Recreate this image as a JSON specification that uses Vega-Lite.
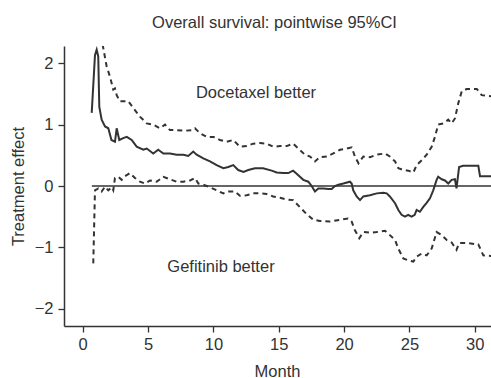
{
  "$schema": "https://vega.github.io/schema/vega-lite/v6.json",
  "autosize": {"type": "none"},
  "width": 427,
  "height": 280,
  "padding": {"left": 64, "top": 46, "right": 0, "bottom": 52},
  "background": "white",
  "title": {"text": "Overall survival: pointwise 95%CI", "fontSize": 16.5, "fontWeight": "normal", "color": "#333", "font": "Liberation Sans", "anchor": "middle", "frame": "group", "baseline": "alphabetic", "offset": 2, "dx": -3},
  "config": {"view": {"stroke": null}, "font": "Liberation Sans"},
  "datasets": {
    "est": [
      {"month":0.69,"v":1.19},{"month":0.94,"v":2.13},{"month":1.07,"v":2.22},{"month":1.19,"v":2.11},{"month":1.27,"v":1.29},{"month":1.45,"v":1.08},{"month":1.71,"v":0.97},{"month":1.96,"v":0.94},{"month":2.2,"v":0.75},{"month":2.47,"v":0.72},{"month":2.6,"v":0.94},{"month":2.8,"v":0.75},{"month":3.1,"v":0.78},{"month":3.37,"v":0.80},{"month":3.75,"v":0.75},{"month":4.13,"v":0.64},{"month":4.64,"v":0.59},{"month":4.9,"v":0.61},{"month":5.4,"v":0.53},{"month":5.78,"v":0.59},{"month":6.17,"v":0.53},{"month":6.68,"v":0.53},{"month":7.19,"v":0.51},{"month":7.7,"v":0.51},{"month":8.08,"v":0.49},{"month":8.46,"v":0.56},{"month":8.72,"v":0.51},{"month":9.23,"v":0.45},{"month":9.74,"v":0.40},{"month":10.25,"v":0.34},{"month":10.76,"v":0.29},{"month":11.14,"v":0.31},{"month":11.52,"v":0.34},{"month":11.9,"v":0.26},{"month":12.3,"v":0.23},{"month":12.67,"v":0.26},{"month":13.18,"v":0.29},{"month":13.8,"v":0.29},{"month":14.46,"v":0.25},{"month":14.84,"v":0.22},{"month":15.35,"v":0.21},{"month":15.73,"v":0.21},{"month":16.1,"v":0.25},{"month":16.37,"v":0.20},{"month":16.88,"v":0.10},{"month":17.26,"v":0.07},{"month":17.52,"v":0.0},{"month":17.77,"v":-0.09},{"month":18.03,"v":-0.04},{"month":18.4,"v":-0.04},{"month":18.8,"v":-0.05},{"month":19.05,"v":-0.05},{"month":19.3,"v":0.0},{"month":19.56,"v":0.02},{"month":19.94,"v":0.04},{"month":20.45,"v":0.07},{"month":20.58,"v":0.04},{"month":20.7,"v":-0.07},{"month":20.96,"v":-0.17},{"month":21.22,"v":-0.23},{"month":21.47,"v":-0.17},{"month":21.98,"v":-0.15},{"month":22.5,"v":-0.12},{"month":23.0,"v":-0.11},{"month":23.26,"v":-0.12},{"month":23.5,"v":-0.17},{"month":23.9,"v":-0.28},{"month":24.15,"v":-0.39},{"month":24.4,"v":-0.47},{"month":24.66,"v":-0.50},{"month":24.9,"v":-0.47},{"month":25.17,"v":-0.50},{"month":25.4,"v":-0.47},{"month":25.55,"v":-0.39},{"month":25.8,"v":-0.42},{"month":26.06,"v":-0.34},{"month":26.3,"v":-0.28},{"month":26.57,"v":-0.20},{"month":26.82,"v":-0.07},{"month":27.08,"v":0.10},{"month":27.2,"v":0.15},{"month":27.47,"v":0.11},{"month":27.72,"v":0.09},{"month":27.97,"v":0.04},{"month":28.23,"v":0.10},{"month":28.48,"v":0.11},{"month":28.6,"v":-0.04},{"month":28.8,"v":0.31},{"month":29.1,"v":0.33},{"month":30.27,"v":0.33},{"month":30.4,"v":0.16},{"month":31.3,"v":0.16}
    ],
    "upper": [
      {"month":1.4,"v":2.45},{"month":1.83,"v":1.95},{"month":2.09,"v":1.78},{"month":2.34,"v":1.57},{"month":2.47,"v":1.59},{"month":2.6,"v":1.48},{"month":2.85,"v":1.38},{"month":3.24,"v":1.38},{"month":3.49,"v":1.38},{"month":3.87,"v":1.27},{"month":4.38,"v":1.13},{"month":4.9,"v":1.02},{"month":5.4,"v":1.0},{"month":5.91,"v":0.94},{"month":6.3,"v":1.0},{"month":6.68,"v":0.91},{"month":7.19,"v":0.91},{"month":7.83,"v":0.90},{"month":8.34,"v":0.91},{"month":8.59,"v":0.94},{"month":8.97,"v":0.86},{"month":9.49,"v":0.80},{"month":10.0,"v":0.80},{"month":10.5,"v":0.75},{"month":11.0,"v":0.72},{"month":11.52,"v":0.75},{"month":12.03,"v":0.64},{"month":12.55,"v":0.65},{"month":13.05,"v":0.69},{"month":13.57,"v":0.70},{"month":14.08,"v":0.69},{"month":14.58,"v":0.64},{"month":15.1,"v":0.65},{"month":15.6,"v":0.65},{"month":16.1,"v":0.69},{"month":16.6,"v":0.59},{"month":17.0,"v":0.51},{"month":17.4,"v":0.48},{"month":17.77,"v":0.40},{"month":18.15,"v":0.47},{"month":18.67,"v":0.48},{"month":19.17,"v":0.53},{"month":19.69,"v":0.59},{"month":20.2,"v":0.61},{"month":20.58,"v":0.63},{"month":20.83,"v":0.48},{"month":21.1,"v":0.37},{"month":21.47,"v":0.48},{"month":21.98,"v":0.47},{"month":22.5,"v":0.51},{"month":23.13,"v":0.53},{"month":23.5,"v":0.48},{"month":23.9,"v":0.40},{"month":24.15,"v":0.29},{"month":24.53,"v":0.26},{"month":24.9,"v":0.25},{"month":25.3,"v":0.22},{"month":25.55,"v":0.34},{"month":25.94,"v":0.42},{"month":26.32,"v":0.51},{"month":26.7,"v":0.64},{"month":26.95,"v":0.80},{"month":27.2,"v":1.0},{"month":27.6,"v":1.02},{"month":27.97,"v":1.08},{"month":28.23,"v":1.02},{"month":28.48,"v":1.10},{"month":28.74,"v":1.35},{"month":29.0,"v":1.54},{"month":29.38,"v":1.58},{"month":30.15,"v":1.58},{"month":30.53,"v":1.48},{"month":31.3,"v":1.46}
    ],
    "lower": [
      {"month":0.81,"v":-1.26},{"month":0.94,"v":-0.07},{"month":1.2,"v":-0.04},{"month":1.45,"v":-0.09},{"month":1.71,"v":-0.01},{"month":1.96,"v":-0.07},{"month":2.22,"v":-0.02},{"month":2.34,"v":-0.07},{"month":2.47,"v":0.13},{"month":2.72,"v":0.15},{"month":2.98,"v":0.10},{"month":3.24,"v":0.16},{"month":3.62,"v":0.21},{"month":4.0,"v":0.13},{"month":4.38,"v":0.07},{"month":4.77,"v":0.04},{"month":5.15,"v":0.09},{"month":5.66,"v":0.07},{"month":6.17,"v":0.15},{"month":6.68,"v":0.11},{"month":7.19,"v":0.07},{"month":7.7,"v":0.07},{"month":8.21,"v":0.09},{"month":8.59,"v":0.13},{"month":8.85,"v":0.04},{"month":9.23,"v":0.02},{"month":9.74,"v":-0.02},{"month":10.25,"v":-0.07},{"month":10.76,"v":-0.12},{"month":11.14,"v":-0.09},{"month":11.65,"v":-0.09},{"month":12.03,"v":-0.16},{"month":12.55,"v":-0.15},{"month":13.05,"v":-0.12},{"month":13.57,"v":-0.12},{"month":14.08,"v":-0.13},{"month":14.58,"v":-0.17},{"month":15.1,"v":-0.19},{"month":15.6,"v":-0.22},{"month":16.1,"v":-0.23},{"month":16.6,"v":-0.34},{"month":17.1,"v":-0.45},{"month":17.64,"v":-0.55},{"month":18.15,"v":-0.57},{"month":18.9,"v":-0.58},{"month":19.69,"v":-0.55},{"month":20.3,"v":-0.53},{"month":20.58,"v":-0.58},{"month":20.83,"v":-0.72},{"month":21.16,"v":-0.85},{"month":21.47,"v":-0.75},{"month":21.98,"v":-0.76},{"month":22.5,"v":-0.75},{"month":23.13,"v":-0.73},{"month":23.5,"v":-0.80},{"month":23.9,"v":-0.88},{"month":24.15,"v":-1.02},{"month":24.53,"v":-1.18},{"month":24.9,"v":-1.21},{"month":25.3,"v":-1.23},{"month":25.55,"v":-1.15},{"month":25.94,"v":-1.10},{"month":26.32,"v":-1.13},{"month":26.7,"v":-1.02},{"month":27.08,"v":-0.75},{"month":27.47,"v":-0.80},{"month":27.85,"v":-0.88},{"month":28.23,"v":-0.92},{"month":28.6,"v":-1.04},{"month":28.8,"v":-0.93},{"month":29.38,"v":-0.93},{"month":30.27,"v":-0.95},{"month":30.65,"v":-1.13},{"month":31.3,"v":-1.14}
    ],
    "ref": [{"x1": 0.7, "x2": 31.3, "v": 0}],
    "labels": [
      {"month": 13.26, "v": 1.52, "label": "Docetaxel better"},
      {"month": 10.58, "v": -1.32, "label": "Gefitinib better"}
    ]
  },
  "layer": [
    {
      "data": {"name": "ref"},
      "mark": {"type": "rule", "color": "#333", "strokeWidth": 1.5, "clip": true},
      "encoding": {
        "x": {"field": "x1", "type": "quantitative", "scale": {"domain": [-1.43, 31.24], "nice": false, "zero": false},
          "axis": {"values": [0,5,10,15,20,25,30], "format": "d", "title": "Month", "grid": false, "domainColor": "#333", "domainWidth": 1.5, "tickColor": "#333", "tickSize": 6, "tickWidth": 1.3, "labelFontSize": 16.5, "labelColor": "#333", "labelPadding": 4, "titleFontSize": 16.5, "titleFontWeight": "normal", "titleColor": "#333", "titleBaseline": "alphabetic", "titleY": 50, "titleX": 213}},
        "x2": {"field": "x2"},
        "y": {"field": "v", "type": "quantitative", "scale": {"domain": [-2.28, 2.28], "nice": false, "zero": false},
          "axis": {"values": [-2,-1,0,1,2], "format": "d", "title": "Treatment effect", "grid": false, "domainColor": "#333", "domainWidth": 1.5, "tickColor": "#333", "tickSize": 6, "tickWidth": 1.3, "labelFontSize": 16.5, "labelColor": "#333", "labelPadding": 5, "titleFontSize": 16.5, "titleFontWeight": "normal", "titleColor": "#333", "titleAngle": -90, "titleBaseline": "alphabetic", "titleAlign": "center", "titleX": -41, "titleY": 140}}
      }
    },
    {
      "data": {"name": "upper"},
      "mark": {"type": "line", "color": "#333", "strokeWidth": 2, "strokeDash": [5, 4], "clip": true},
      "encoding": {"x": {"field": "month", "type": "quantitative"}, "y": {"field": "v", "type": "quantitative"}}
    },
    {
      "data": {"name": "lower"},
      "mark": {"type": "line", "color": "#333", "strokeWidth": 2, "strokeDash": [5, 4], "clip": true},
      "encoding": {"x": {"field": "month", "type": "quantitative"}, "y": {"field": "v", "type": "quantitative"}}
    },
    {
      "data": {"name": "est"},
      "mark": {"type": "line", "color": "#333", "strokeWidth": 2, "clip": true},
      "encoding": {"x": {"field": "month", "type": "quantitative"}, "y": {"field": "v", "type": "quantitative"}}
    },
    {
      "data": {"name": "labels"},
      "mark": {"type": "text", "fontSize": 16.5, "color": "#333", "align": "center", "baseline": "middle"},
      "encoding": {"x": {"field": "month", "type": "quantitative"}, "y": {"field": "v", "type": "quantitative"}, "text": {"field": "label"}}
    }
  ]
}
